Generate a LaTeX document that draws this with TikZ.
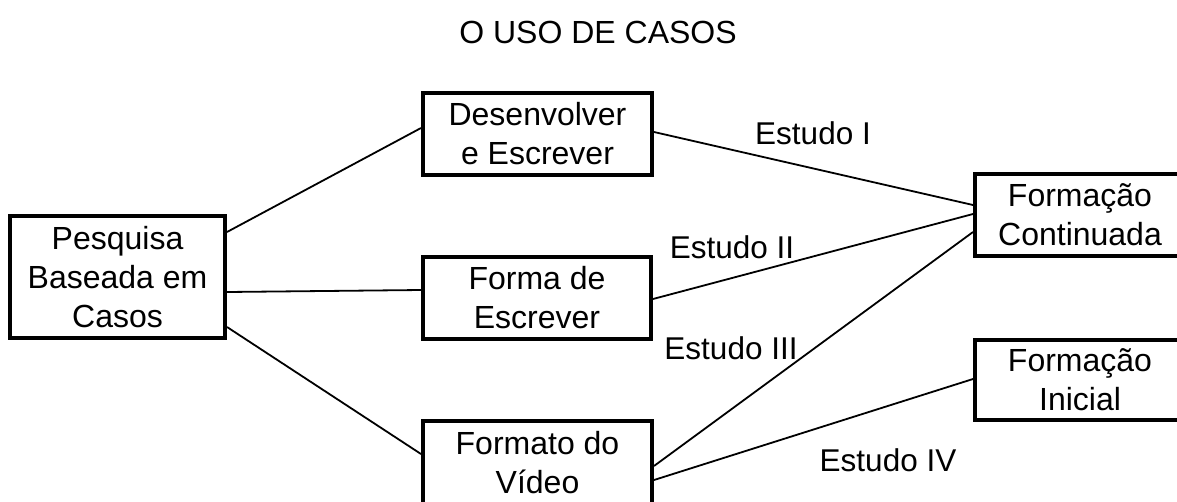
\documentclass[tikz,border=0pt]{standalone}
\usepackage{fontspec}
\setmainfont{Liberation Sans}
\begin{document}
\begin{tikzpicture}[x=1pt,y=-1pt,
  box/.style={draw,line width=4pt,inner sep=0pt,align=center,
    font=\fontsize{32pt}{39pt}\selectfont},
  lbl/.style={inner sep=0pt,font=\fontsize{31.5pt}{38pt}\selectfont},
  conn/.style={line width=1.8pt}]
\useasboundingbox (0,0) rectangle (1177,501);
\clip (0,0) rectangle (1177,501);
\node[inner sep=0pt,font=\fontsize{32pt}{38pt}\selectfont] (title) at (598,32) {O USO DE CASOS};
\node[box,minimum width=215pt,minimum height=122pt] (pesq) at (117.5,277) {Pesquisa\\Baseada em\\Casos};
\node[box,minimum width=229pt,minimum height=82pt] (des) at (537.5,134) {Desenvolver\\e Escrever};
\node[box,minimum width=228pt,minimum height=82pt] (forma) at (537,298) {Forma de\\Escrever};
\node[box,minimum width=229pt,minimum height=84pt] (video) at (537.5,463) {Formato do\\Vídeo};
\node[box,minimum width=210pt,minimum height=82pt] (fc) at (1080,215) {Formação\\Continuada};
\node[box,minimum width=210pt,minimum height=80pt] (fi) at (1080,380) {Formação\\Inicial};
\draw[conn] ([yshift=45pt]pesq.east) -- ([yshift=6pt]des.west);
\draw[conn] ([yshift=-15pt]pesq.east) -- ([yshift=8pt]forma.west);
\draw[conn] ([yshift=-50pt]pesq.east) -- ([yshift=9pt]video.west);
\draw[conn] ([yshift=2pt]des.east) -- ([yshift=10pt]fc.west);
\draw[conn] ([yshift=-1pt]forma.east) -- ([yshift=1pt]fc.west);
\draw[conn] ([yshift=-3pt]video.east) -- ([yshift=-17pt]fc.west);
\draw[conn] ([yshift=-17pt]video.east) -- ([yshift=1pt]fi.west);
\node[lbl] (e1) at (813,133) {Estudo I};
\node[lbl] (e2) at (732,247) {Estudo II};
\node[lbl] (e3) at (731,348) {Estudo III};
\node[lbl] (e4) at (888,460) {Estudo IV};
\end{tikzpicture}
\end{document}
